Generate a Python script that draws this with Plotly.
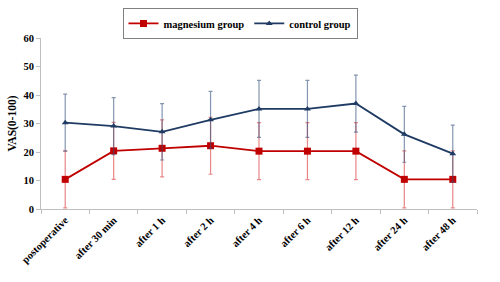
import plotly.graph_objects as go

categories = ["postoperative", "after 30 min", "after 1 h", "after 2 h", "after 4 h",
              "after 6 h", "after 12 h", "after 24 h", "after 48 h"]
magnesium = [10.4, 20.4, 21.3, 22.2, 20.3, 20.3, 20.3, 10.4, 10.4]
magnesium_err = [10, 10, 10, 10, 10, 10, 10, 10, 10]
control = [30.3, 29.1, 27.1, 31.3, 35.1, 35.1, 37.0, 26.2, 19.4]
control_err = [10, 10, 9.9, 10, 10, 10, 10, 9.8, 10]

font_family = "Liberation Serif, Times New Roman, serif"

fig = go.Figure()
fig.add_trace(go.Scatter(
    x=categories, y=magnesium, name="<b>magnesium group</b>", mode="lines+markers",
    line=dict(color="#C00000", width=1.8),
    marker=dict(symbol="square", size=7, color="#C00000"),
    error_y=dict(type="data", array=magnesium_err, visible=True,
                 color="rgba(220,70,70,0.65)", thickness=1.2, width=2),
))
fig.add_trace(go.Scatter(
    x=categories, y=control, name="<b>control group</b>", mode="lines+markers",
    line=dict(color="#1F3B64", width=1.8),
    marker=dict(symbol="triangle-up", size=6, color="#1F3B64"),
    error_y=dict(type="data", array=control_err, visible=True,
                 color="rgba(50,80,125,0.6)", thickness=1.2, width=2),
))

fig.update_layout(
    width=500, height=282,
    margin=dict(l=41, r=23, t=38, b=73, autoexpand=False),
    paper_bgcolor="white", plot_bgcolor="white",
    font=dict(family=font_family, size=10, color="black"),
    showlegend=True,
    legend=dict(orientation="h", xref="container", yref="container",
                x=0.48, xanchor="center", y=0.972, yanchor="top",
                bordercolor="#808080", borderwidth=1, bgcolor="white",
                font=dict(family=font_family, size=10.5, color="black"),
                itemwidth=30, tracegroupgap=0),
    xaxis=dict(type="category", tickson="boundaries", ticks="outside", ticklen=4,
               tickcolor="#BFBFBF", showline=True, linecolor="#BFBFBF", linewidth=1,
               showgrid=False, tickangle=-45, range=[-0.5, 8.5], automargin=False,
               tickprefix="<b>", ticksuffix="</b>",
               tickfont=dict(family=font_family, size=10.5, color="black")),
    yaxis=dict(range=[0, 60], dtick=10, ticks="outside", ticklen=4, tickcolor="#BFBFBF",
               showline=True, linecolor="#BFBFBF", linewidth=1, showgrid=False,
               zeroline=False, automargin=False,
               tickprefix="<b>", ticksuffix="</b>",
               title=dict(text="<b>VAS(0-100)</b>", standoff=4,
                          font=dict(family=font_family, size=11.5, color="black")),
               tickfont=dict(family=font_family, size=10.5, color="black")),
)

fig.write_html("out.html", config={"displayModeBar": False},
               post_script="document.body.style.margin='0';")
